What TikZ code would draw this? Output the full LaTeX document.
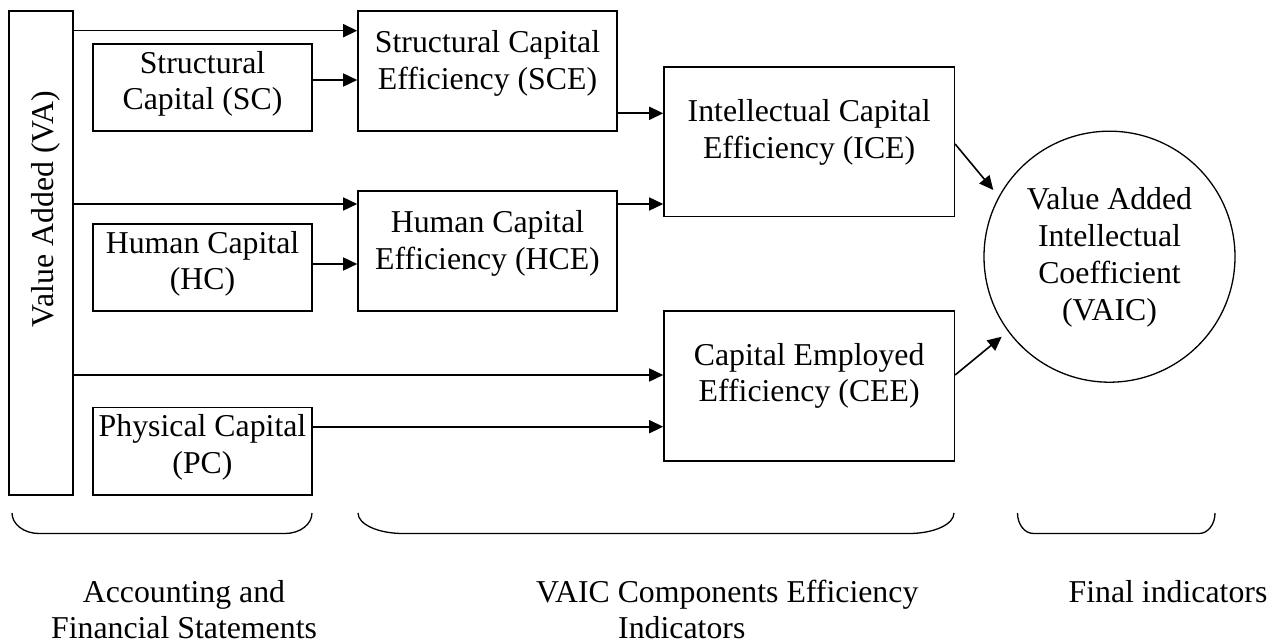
\documentclass[tikz,border=0pt]{standalone}
\usepackage{fontspec}
\setmainfont{Liberation Serif}
\usepackage{graphicx}
\usetikzlibrary{arrows.meta,calc}
\setlength{\tabcolsep}{0pt}
\newcommand{\twol}[2]{\begin{tabular}[t]{c}#1\\#2\end{tabular}}
\begin{document}
\begin{tikzpicture}[x=1pt,y=-1pt,
  every node/.style={font=\fontsize{31.8}{36.7}\selectfont},
  box/.style={draw, line width=1.6pt, rectangle, inner sep=0pt},
  arr/.style={line width=1.6pt, -{Triangle[length=14pt,width=13pt]}},
  brace/.style={line width=1.3pt},
  lab/.style={inner sep=0pt}]
\useasboundingbox (0,0) rectangle (1280,644);

% boxes
\node[box, minimum width=64pt, text height=316pt, text depth=167.7pt] (va) at (41,252.85)
  {\hspace*{10pt}\rotatebox{90}{Value Added (VA)}};
\node[box, minimum width=219pt, text height=29.3pt, text depth=57.7pt] (sc) at (202.5,87.5)
  {\twol{Structural}{Capital (SC)}};
\node[box, minimum width=219pt, text height=29.3pt, text depth=57.7pt] (hc) at (202.5,267.5)
  {\twol{Human Capital}{(HC)}};
\node[box, minimum width=219pt, text height=29.4pt, text depth=58pt] (pc) at (202.5,451)
  {\twol{Physical Capital}{(PC)}};
\node[box, minimum width=259pt, text height=41.7pt, text depth=78.3pt] (sce) at (487.5,71)
  {\twol{Structural Capital}{Efficiency (SCE)}};
\node[box, minimum width=259pt, text height=41.4pt, text depth=78.3pt] (hce) at (487.5,251.15)
  {\twol{Human Capital}{Efficiency (HCE)}};
\node[box, minimum width=290.3pt, text height=54.4pt, text depth=95pt] (ice) at (809.15,142)
  {\twol{Intellectual Capital}{Efficiency (ICE)}};
\node[box, minimum width=290.3pt, text height=54pt, text depth=95.7pt] (cee) at (809.15,385.85)
  {\twol{Capital Employed}{Efficiency (CEE)}};
\node[draw, circle, line width=1.3pt, minimum size=251pt, inner sep=0pt,
  text height=20pt, text depth=113.4pt] (vaic) at (1109.5,256.7)
  {\begin{tabular}[t]{c}Value Added\\Intellectual\\Coefficient\\(VAIC)\end{tabular}};

% connectors
\draw[arr] (va.east |- 0,30.7) -- (sce.west |- 0,30.7);
\draw[arr] (sc.east |- 0,80) -- (sce.west |- 0,80);
\draw[arr] (sce.east |- 0,113.3) -- (ice.west |- 0,113.3);
\draw[arr] (va.east |- 0,204) -- (hce.west |- 0,204);
\draw[arr] (hc.east |- 0,264) -- (hce.west |- 0,264);
\draw[arr] (hce.east |- 0,204) -- (ice.west |- 0,204);
\draw[arr] (va.east |- 0,375) -- (cee.west |- 0,375);
\draw[arr] (pc.east |- 0,426.7) -- (cee.west |- 0,426.7);
\draw[arr] (ice.east |- 0,144) -- ($(vaic.center)+(-116.2,-66.7)$);
\draw[arr] (cee.east |- 0,375) -- ($(vaic.center)+(-107.8,80)$);

% brackets
\draw[brace] (12,513) .. controls (12,524.3) and (24,533.5) .. (39,533.5) -- (285,533.5)
  .. controls (300,533.5) and (312,524.3) .. (312,513);
\draw[brace] (358,513) .. controls (358,524.3) and (378,533.5) .. (403,533.5) -- (909,533.5)
  .. controls (934,533.5) and (954,524.3) .. (954,513);
\draw[brace] (1017.5,513) .. controls (1017.5,524.3) and (1024.5,533.5) .. (1033.5,533.5) -- (1199,533.5)
  .. controls (1208,533.5) and (1215,524.3) .. (1215,513);

% group labels
\node[lab, anchor=base] (lab1) at (184,602) {\twol{Accounting and}{Financial Statements}};
\node[lab, anchor=base west] (lab2) at (536,602)
  {\begin{tabular}[t]{l}VAIC Components Efficiency\\\hspace*{82pt}Indicators\end{tabular}};
\node[lab, anchor=base] (lab3) at (1168,602) {Final indicators};
\end{tikzpicture}
\end{document}
